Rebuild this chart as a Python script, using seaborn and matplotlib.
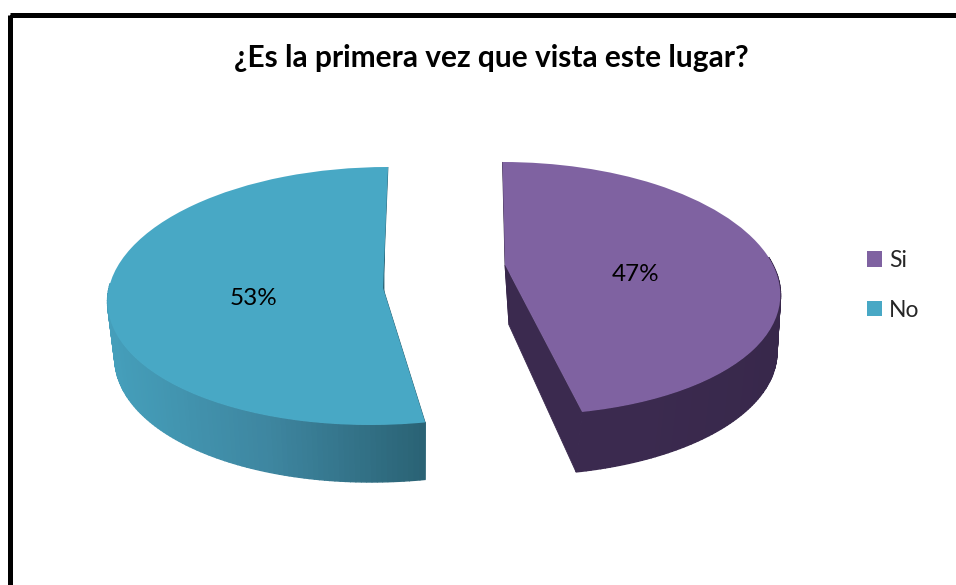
import numpy as np
import matplotlib
matplotlib.use("Agg")
import matplotlib.pyplot as plt
from matplotlib.transforms import Transform
from matplotlib.colors import LinearSegmentedColormap
from matplotlib.patches import Rectangle
import seaborn as sns

TITLE = "¿Es la primera vez que vista este lugar?"
categories = ["Si", "No"]
values = [47, 53]
top_colors = ["#7F62A1", "#48A8C5"]
side_stops = [["#3B2A4F", "#3B2A4F", "#38284B"], ["#459FBB", "#3E86A0", "#2A6274"]]


class Tilt(Transform):
    """Perspective view of a unit pie lying on a table, in pixel coordinates."""
    input_dims = output_dims = 2

    def __init__(self, cx, cy, rx, up, bend, taper, s1, s2):
        super().__init__()
        self.p = (cx, cy, rx, up, bend, taper, s1, s2)

    def transform_non_affine(self, xy):
        cx, cy, rx, up, bend, taper, s1, s2 = self.p
        xy = np.asarray(xy, float)
        x, y = xy[:, 0], xy[:, 1]
        return np.column_stack([cx + rx * x * (1 - taper * y) + s1 * y + s2 * y ** 2,
                                cy - (up * y + bend * y ** 2)])


top_views = [Tilt(505, 265, 268, 126.5, -23.5, 0.20, -10, 7.5),
             Tilt(383, 288, 274, 129, -8, 0.07, 9, -4)]
base_views = [Tilt(509, 325, 262, 126.5, -23.5, 0.20, -4, 4.5),
              Tilt(384, 345, 268, 129, -8, 0.07, 6.5, -6.5)]
label_shift = [(-0.02, -0.12), (0.03, -0.035)]

sns.set_theme(style="white")
plt.rcParams["font.family"] = ["Lato", "DejaVu Sans"]

fig = plt.figure(figsize=(9.56, 5.85), dpi=100, facecolor="white")
ax = fig.add_axes([0, 0, 1, 1])

wedges, _, pcts = ax.pie(values, colors=top_colors, startangle=90, counterclock=False,
                         autopct="%.0f%%", pctdistance=0.5, labels=None,
                         textprops=dict(fontsize=17.5, color="black"))
ax.set_aspect("auto")
ax.set_xlim(0, 956)
ax.set_ylim(585, 0)
ax.set_axis_off()

for w, txt, top, base, stops, (dx, dy) in zip(wedges, pcts, top_views, base_views,
                                              side_stops, label_shift):
    w.set_transform(top + ax.transData)
    w.set_zorder(3)
    w.set_linewidth(0)
    x0, y0 = txt.get_position()
    txt.set_position((x0 + dx, y0 + dy))
    txt.set_transform(top + ax.transData)
    txt.set_zorder(4)

    cmap = LinearSegmentedColormap.from_list("side", stops)
    ang = np.radians(np.linspace(w.theta1, w.theta2, 181))
    ring = np.column_stack([np.cos(ang), np.sin(ang)])
    a, b = top.transform(ring), base.transform(ring)
    lo, hi = a[:, 0].min(), a[:, 0].max()
    for i in range(len(ang) - 1):
        if ring[i, 1] > 0.05:      # the far rim is hidden behind the top face
            continue
        col = cmap((a[i, 0] - lo) / (hi - lo))
        ax.fill([a[i, 0], a[i + 1, 0], b[i + 1, 0], b[i, 0]],
                [a[i, 1], a[i + 1, 1], b[i + 1, 1], b[i, 1]],
                color=col, lw=1.0, zorder=2)
    apex_a, apex_b = top.transform(np.zeros((1, 2)))[0], base.transform(np.zeros((1, 2)))[0]
    for j in (0, -1):
        ax.fill([apex_a[0], a[j, 0], b[j, 0], apex_b[0]],
                [apex_a[1], a[j, 1], b[j, 1], apex_b[1]],
                color=cmap(1.0 if j == -1 or top is top_views[1] else 0.0), lw=0.6, zorder=1)

ax.text(491.5, 58, TITLE, ha="center", va="center", fontsize=21.5, fontweight="bold", color="black")
ax.add_patch(Rectangle((10.5, 15), 1100, 800, fill=False, ec="black", lw=3.6, zorder=5))

handles = [Rectangle((0, 0), 1, 1, fc=c, ec="none") for c in top_colors]
leg = ax.legend(handles, categories, loc="upper left", bbox_to_anchor=(867 / 956, 1 - 250 / 585),
                frameon=False, fontsize=16.5, handlelength=0.66, handleheight=0.66, handletextpad=0.3,
                labelspacing=1.25, borderpad=0, borderaxespad=0)

fig.savefig("out.png", dpi=100)
